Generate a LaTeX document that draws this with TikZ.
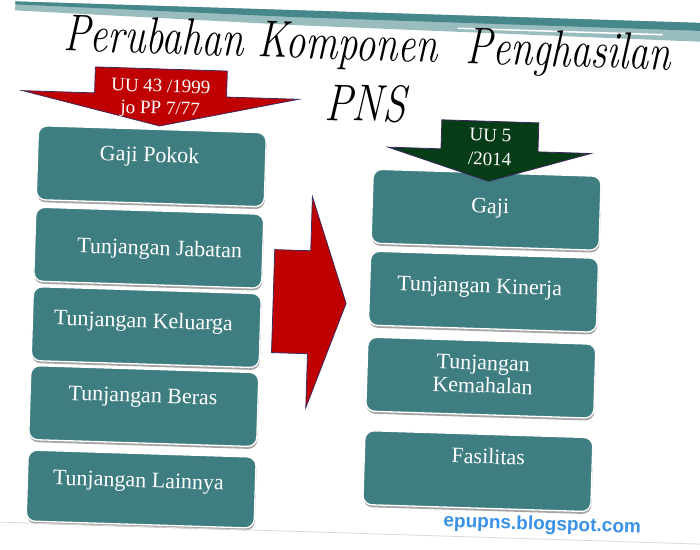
\documentclass[tikz,border=0pt]{standalone}
\usepackage{fontspec}
\newfontfamily\isifont{Liberation Serif}
\newfontfamily\webfont{Liberation Sans}
\usetikzlibrary{shadows}
\definecolor{hijautosca}{RGB}{62,125,128}
\definecolor{merah}{RGB}{192,0,0}
\definecolor{hijautua}{RGB}{6,60,22}
\definecolor{garisungu}{RGB}{60,40,95}
\definecolor{birublog}{RGB}{58,146,232}
\definecolor{pitateal}{RGB}{70,135,138}
\begin{document}
\begin{tikzpicture}[x=1pt,y=-1pt,
  kotak/.style={draw=white, line width=1.3pt, fill=hijautosca, rounded corners=9pt,
    minimum width=228pt, minimum height=74pt, inner sep=0pt,
    drop shadow={shadow xshift=0.5pt, shadow yshift=-2.5pt, fill=black!70}},
  isi/.style={text=white, font=\isifont\fontsize{22}{23}\selectfont, align=center, inner sep=0pt},
  label/.style={text=white, font=\isifont\fontsize{19}{22}\selectfont, align=center, inner sep=0pt},
  judulfont/.style={font=\fontsize{40}{44}\selectfont\itshape, inner sep=0pt},
  panah/.style={draw=garisungu, line width=0.8pt, line join=miter}]
\useasboundingbox (0,0) rectangle (700,549);
\fill[white] (0,0) rectangle (700,549);
\begin{scope}[rotate around={-1.8:(350,274.5)}, transform shape]
% pita atas
\fill[pitateal!55] (7,12) -- (710,12) -- (710,31) -- (290,27) -- (7,21) -- cycle;
\fill[pitateal] (7,12) -- (710,12) -- (710,20) -- (290,19) -- (7,15) -- cycle;
\draw[white, line width=1.5pt] (450,25) -- (655,25);
% judul
\node[anchor=base west, judulfont] (judul1) at (56,60) {\scalebox{1}[1.3]{Perubahan}};
\node[anchor=base west, judulfont] (judul2) at (judul1.base east) {\scalebox{1}[1.3]{\ Komponen}};
\node[anchor=base west, judulfont] (judul3) at (judul2.base east) {\scalebox{1}[1.3]{\ \ Penghasilan}};
\node[anchor=base, judulfont] (pns) at (360,121) {\scalebox{1.05}[1.3]{PNS}};
% kotak kiri
\node[kotak] (gapok) at (148,172.5) {};
\node[kotak] (tjab) at (148,254) {};
\node[kotak] (tkel) at (148,333.5) {};
\node[kotak] (tber) at (148,412.5) {};
\node[kotak, minimum height=71pt] (tlain) at (148,495.5) {};
% kotak kanan
\node[kotak] (gaji) at (484,205.5) {};
\node[kotak] (tkin) at (484,287.5) {};
\node[kotak] (tkem) at (484,373.5) {};
\node[kotak] (fas) at (484,467) {};
% panah
\filldraw[panah, fill=merah] (89,75) -- (221,75) -- (221,101) -- (293,101) -- (155,132) -- (17,101) -- (89,101) -- cycle;
\filldraw[panah, fill=hijautua] (437,117) -- (534,117) -- (534,146) -- (587,146) -- (485.5,177) -- (384,146) -- (437,146) -- cycle;
\filldraw[panah, fill=merah] (274,252) -- (310,252) -- (310,198) -- (347,303.5) -- (310,409) -- (310,355) -- (274,355) -- cycle;
\node[label] (uu43) at (155,105) {UU 43 /1999\\jo PP 7/77};
\node[label, font=\isifont\fontsize{19}{24}\selectfont] (uu5) at (486,143) {UU 5\\/2014};
% isi kotak
\node[isi] (tgapok) at (146,163) {Gaji Pokok};
\node[isi] (ttjab) at (159,256) {Tunjangan Jabatan};
\node[isi] (ttkel) at (145,329) {Tunjangan Keluarga};
\node[isi] (ttber) at (147,404) {Tunjangan Beras};
\node[isi] (ttlain) at (145,489) {Tunjangan Lainnya};
\node[isi] (tgaji) at (488,204) {Gaji};
\node[isi] (ttkin) at (480,284) {Tunjangan Kinerja};
\node[isi] (ttkem) at (486,370) {Tunjangan\\Kemahalan};
\node[isi] (tfas) at (494,452) {Fasilitas};
% bawah
\draw[black!15, line width=0.8pt] (-20,533) -- (720,533);
\node[font=\webfont\bfseries\fontsize{19}{21}\selectfont, text=birublog] (blog) at (550,519) {epupns.blogspot.com};
\end{scope}
\end{tikzpicture}
\end{document}
